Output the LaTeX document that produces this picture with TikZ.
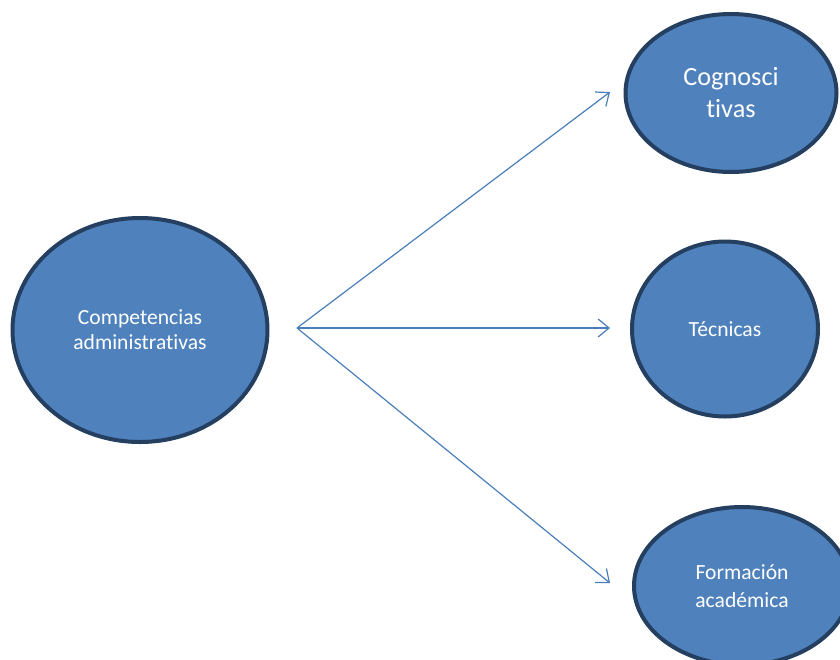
\documentclass[tikz,border=0pt]{standalone}
\usepackage{fontspec}
\setmainfont{Carlito}[Ligatures=NoCommon]
\usetikzlibrary{arrows.meta,shapes.geometric}
\definecolor{fillb}{HTML}{4F81BD}
\definecolor{edgeb}{HTML}{243F60}
\definecolor{arrb}{HTML}{4A7EBB}
\begin{document}
\begin{tikzpicture}[x=1pt,y=-1pt,
  blob/.style={ellipse,draw=edgeb,line width=4pt,fill=fillb,text=white,align=center,inner sep=0pt},
  conn/.style={draw=arrb,line width=1.2pt,-{Straight Barb[length=11pt,width=18pt,line width=1.2pt]}}]
\useasboundingbox (0,0) rectangle (840,659);
\node[blob,minimum width=255pt,minimum height=224pt,font=\fontsize{21.6}{25}\selectfont] (comp) at (140,330) {Competencias\\administrativas};
\node[blob,minimum width=211pt,minimum height=158pt,font=\fontsize{26.3}{32}\selectfont] (cog) at (731,93) {Cognosci\\tivas};
\node[blob,minimum width=186pt,minimum height=175pt,font=\fontsize{21.6}{25}\selectfont] (tec) at (725,329) {Técnicas};
\node[blob,minimum width=216pt,minimum height=158pt,font=\fontsize{21.6}{28}\selectfont] (form) at (742,586) {Formación\\académica};
\coordinate (src) at (297,328);
\coordinate (e1) at (610,92);
\coordinate (e2) at (610,328);
\coordinate (e3) at (610,583);
\draw[conn] (src) -- (e1);
\draw[conn] (src) -- (e2);
\draw[conn] (src) -- (e3);
\end{tikzpicture}
\end{document}
